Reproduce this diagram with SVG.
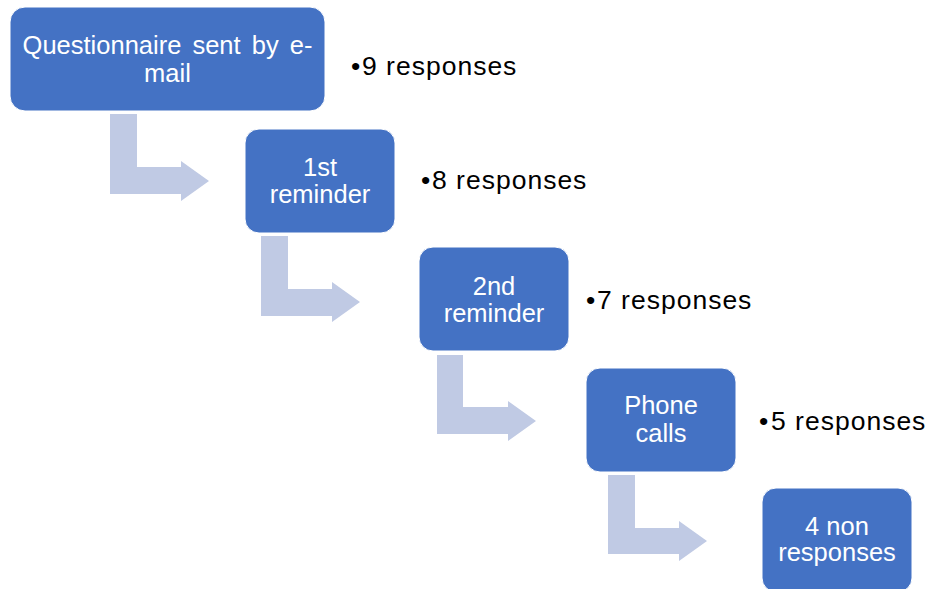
<svg xmlns="http://www.w3.org/2000/svg" width="931" height="589" viewBox="0 0 931 589">
<style>
.box{fill:#4472C4;stroke:#ffffff;stroke-width:1}
.bt{font-family:"Liberation Sans",Arial,sans-serif;font-size:25.5px;fill:#ffffff;text-anchor:middle}
.rt{font-family:"Liberation Sans",Arial,sans-serif;font-size:26.5px;fill:#000000;letter-spacing:1px}
.arr{fill:#C0CAE4}
</style>
<rect width="931" height="589" fill="#ffffff"/>
<g id="connectors">
<path class="arr" d="M110,114 H137 V167 H181 V161 L209,181 L181,201 V194 H110 Z"/>
<path class="arr" d="M261,236 H288 V289 H332 V282 L360,302 L332,322 V316 H261 Z"/>
<path class="arr" d="M437,355 H463 V407 H508 V401 L536,421 L508,441 V434 H437 Z"/>
<path class="arr" d="M608,475 H635 V528 H679 V521 L707,541 L679,561 V554 H608 Z"/>
</g>
<g id="node1">
<rect class="box" x="10" y="7" width="315" height="104" rx="15"/>
<text class="bt" x="167.5" y="54" word-spacing="4">Questionnaire sent by e-</text>
<text class="bt" x="167.5" y="82">mail</text>
</g>
<g id="label1"><text class="rt" x="351" y="75">•<tspan x="362">9 responses</tspan></text></g>
<g id="node2">
<rect class="box" x="245" y="129" width="150" height="104" rx="14"/>
<text class="bt" x="320" y="176">1st</text>
<text class="bt" x="320" y="203">reminder</text>
</g>
<g id="label2"><text class="rt" x="421" y="189">•<tspan x="432">8 responses</tspan></text></g>
<g id="node3">
<rect class="box" x="419" y="247" width="150" height="104" rx="14"/>
<text class="bt" x="494" y="295">2nd</text>
<text class="bt" x="494" y="322">reminder</text>
</g>
<g id="label3"><text class="rt" x="586" y="309">•<tspan x="597">7 responses</tspan></text></g>
<g id="node4">
<rect class="box" x="586" y="368" width="150" height="104" rx="14"/>
<text class="bt" x="661" y="414">Phone</text>
<text class="bt" x="661" y="442">calls</text>
</g>
<g id="label4"><text class="rt" x="759" y="430">•<tspan x="771">5 responses</tspan></text></g>
<g id="node5">
<rect class="box" x="762" y="488" width="150" height="104" rx="14"/>
<text class="bt" x="837" y="535">4 non</text>
<text class="bt" x="837" y="561">responses</text>
</g>
</svg>
